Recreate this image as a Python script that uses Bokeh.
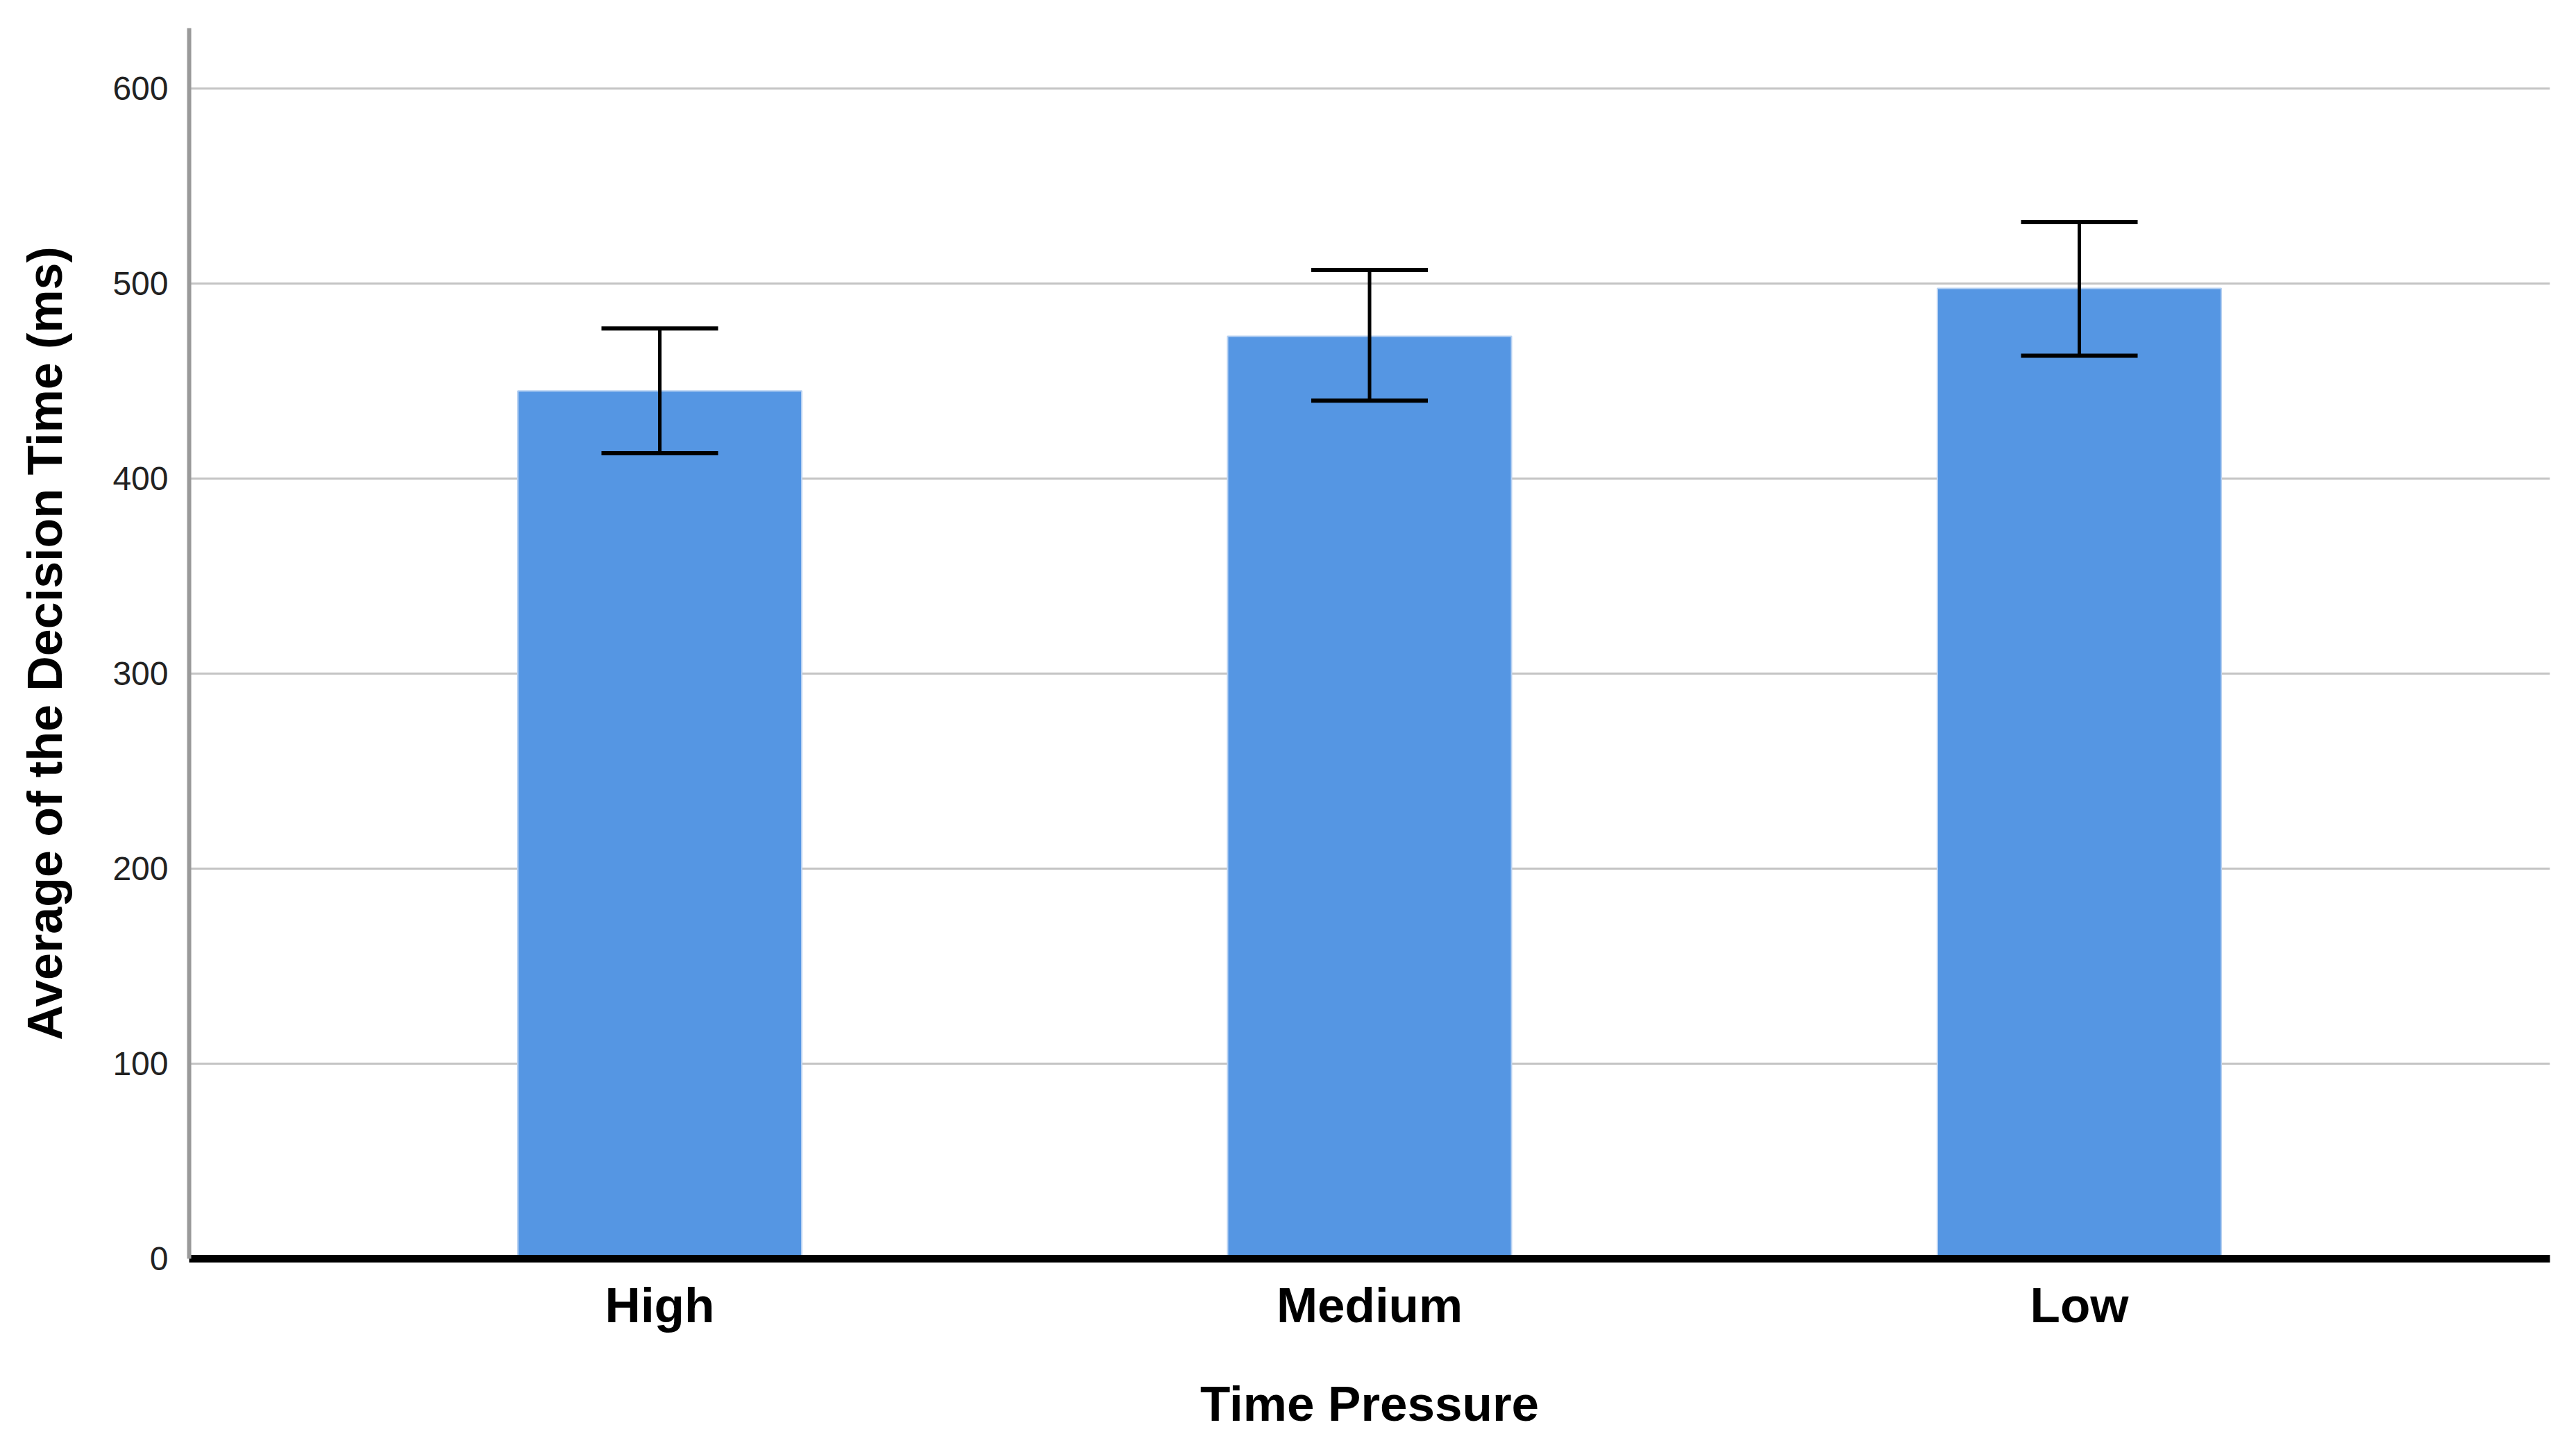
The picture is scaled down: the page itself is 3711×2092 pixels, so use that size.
from bokeh.plotting import figure
from bokeh.models import ColumnDataSource, FactorRange, Range1d, FixedTicker, Whisker, TeeHead
from bokeh.embed import file_html
from bokeh.resources import INLINE

categories = ["High", "Medium", "Low"]
means = [445, 473, 497.5]
ci_lower = [413, 440, 463]
ci_upper = [477, 507, 531.5]
y_ticks = [0, 100, 200, 300, 400, 500, 600]

source = ColumnDataSource(data=dict(cat=categories, mean=means, lower=ci_lower, upper=ci_upper))

p = figure(
    width=3695, height=2076,
    x_range=FactorRange(factors=categories, range_padding=0.1087, range_padding_units="percent"),
    y_range=Range1d(0, 631),
    output_backend="svg", toolbar_location=None,
    min_border_left=272, min_border_right=22, min_border_top=40, min_border_bottom=263,
)
p.outline_line_color = None

p.vbar(x="cat", top="mean", width=0.4, source=source,
       fill_color="#5596e3", line_color="#b7d1f2", line_width=2)

w = Whisker(source=source, base="cat", upper="upper", lower="lower", dimension="height",
            line_color="black", line_width=5, level="overlay",
            upper_head=TeeHead(size=168, line_color="black", line_width=6),
            lower_head=TeeHead(size=168, line_color="black", line_width=6))
p.add_layout(w)

# grid
p.xgrid.grid_line_color = None
p.ygrid.ticker = FixedTicker(ticks=y_ticks)
p.ygrid.grid_line_color = "#c4c4c4"
p.ygrid.grid_line_width = 3

# y axis
p.yaxis.ticker = FixedTicker(ticks=y_ticks)
p.yaxis.axis_line_color = "#9a9a9a"
p.yaxis.axis_line_width = 6
p.yaxis.major_tick_line_color = None
p.yaxis.minor_tick_line_color = None
p.yaxis.major_label_text_font = "Liberation Sans"
p.yaxis.major_label_text_font_size = "48px"
p.yaxis.major_label_text_color = "#222222"
p.yaxis.major_label_standoff = 24
p.yaxis.axis_label = "Average of the Decision Time (ms)"
p.yaxis.axis_label_text_font = "Liberation Sans"
p.yaxis.axis_label_text_font_style = "bold"
p.yaxis.axis_label_text_font_size = "70px"
p.yaxis.axis_label_text_color = "black"
p.yaxis.axis_label_standoff = 55

# x axis
p.xaxis.axis_line_color = "black"
p.xaxis.axis_line_width = 11
p.xaxis.major_tick_line_color = None
p.xaxis.minor_tick_line_color = None
p.xaxis.major_label_text_font = "Liberation Sans"
p.xaxis.major_label_text_font_style = "bold"
p.xaxis.major_label_text_font_size = "71px"
p.xaxis.major_label_text_color = "black"
p.xaxis.major_label_standoff = 21
p.xaxis.axis_label = "Time Pressure"
p.xaxis.axis_label_text_font = "Liberation Sans"
p.xaxis.axis_label_text_font_style = "bold"
p.xaxis.axis_label_text_font_size = "71px"
p.xaxis.axis_label_text_color = "black"
p.xaxis.axis_label_standoff = 60

open("out.html", "w").write(file_html(p, INLINE))
